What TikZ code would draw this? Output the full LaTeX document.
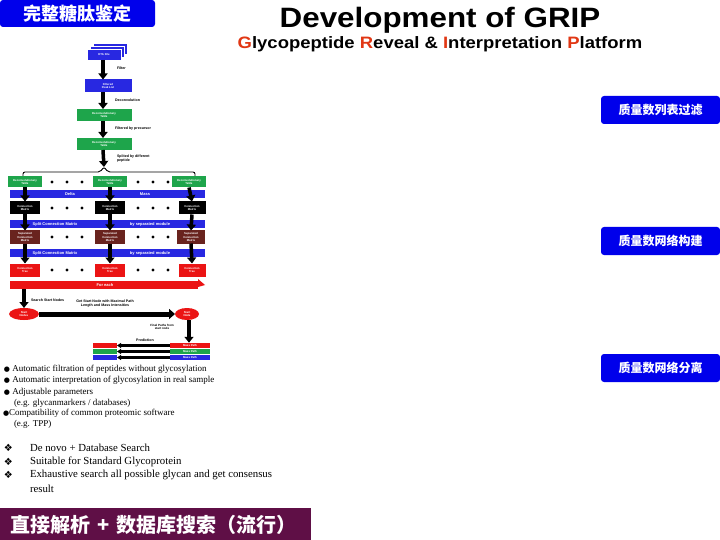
\documentclass[tikz,border=0pt]{standalone}
\usepackage{fontspec}
\setmainfont{Liberation Serif}
\newfontfamily\sansb{Liberation Sans}
\newfontfamily\cjk{Noto Sans CJK SC}
\newfontfamily\dejavu{DejaVu Sans}
\usetikzlibrary{arrows.meta,shapes.geometric}
\definecolor{tagblue}{RGB}{0,0,235}
\definecolor{fblue}{RGB}{40,40,225}
\definecolor{fgreen}{RGB}{30,165,75}
\definecolor{fbrown}{RGB}{105,35,30}
\definecolor{fred}{RGB}{235,20,20}
\definecolor{tred}{RGB}{225,55,20}
\definecolor{bpurple}{RGB}{95,15,70}
\begin{document}
\begin{tikzpicture}[x=1pt,y=-1pt,every node/.style={inner sep=0pt,outer sep=0pt},
  tag/.style={fill=tagblue,rounded corners=3pt,text=white,font=\cjk\bfseries\fontsize{12}{12}\selectfont,minimum width=119pt,minimum height=28pt},
  fb/.style={text=white,font=\sansb\bfseries\fontsize{2.8}{3.2}\selectfont,align=center,minimum height=12pt},
  lbl/.style={font=\sansb\bfseries\fontsize{3.6}{4}\selectfont,align=left},
  band/.style={fill=fblue,minimum width=195pt,minimum height=8pt},
  bandtxt/.style={text=white,font=\sansb\bfseries\fontsize{4}{4}\selectfont},
  blk/.style={line width=3.5pt,-{Triangle[width=9pt,length=6pt]}},
  thin/.style={line width=2.2pt,-{Triangle[width=5pt,length=4pt]}},
  dotc/.style={fill=black,circle,minimum size=3.2pt},
  bul/.style={anchor=west,font=\fontsize{9}{9}\selectfont},
  dia/.style={anchor=west,font=\fontsize{10.8}{12}\selectfont},
  dmark/.style={anchor=west,font=\dejavu\fontsize{10}{10}\selectfont}]
\useasboundingbox[fill=white] (0,0) rectangle (720,540);

% header
\node[fill=tagblue,rounded corners=3pt,text=white,font=\cjk\bfseries\fontsize{18}{18}\selectfont,minimum width=155pt,minimum height=27pt,anchor=north west] (head) at (0,0) {完整糖肽鉴定};
\node[font=\sansb\bfseries\fontsize{28}{28}\selectfont] (title) at (440,20) {\scalebox{1.12}[1]{Development of GRIP}};
\node[font=\sansb\bfseries\fontsize{16.5}{17}\selectfont] (sub) at (440,44) {\scalebox{1.12}[1]{\textcolor{tred}{G}lycopeptide \textcolor{tred}{R}eveal \& \textcolor{tred}{I}nterpretation \textcolor{tred}{P}latform}};

% right tags
\node[tag,anchor=north west] (t1) at (601,96) {质量数列表过滤};
\node[tag,anchor=north west] (t2) at (601,227) {质量数网络构建};
\node[tag,anchor=north west] (t3) at (601,354) {质量数网络分离};

% flow top
\fill[fblue,draw=white,line width=0.6pt] (93,43) rectangle (127,54);
\fill[fblue,draw=white,line width=0.6pt] (90,46) rectangle (124,57);
\node[fb,fill=fblue,draw=white,line width=0.6pt,minimum width=34pt,minimum height=11pt] (dta) at (104,54.5) {DTA File};
\node[fb,fill=fblue,minimum width=47pt,minimum height=13pt] (filt) at (108,86) {Filtered\\Peak List};
\node[fb,fill=fgreen,minimum width=55pt] (dec1) at (104,115) {Deconvolutionary\\Table};
\node[fb,fill=fgreen,minimum width=55pt] (dec2) at (104,144) {Deconvolutionary\\Table};
\coordinate (br) at (104,167);
\draw[blk] (dta.south -| 103,0) -- (103,79.5);
\draw[blk] (103,92.5) -- (dec1.north -| 103,0);
\draw[blk] (dec1.south -| 103,0) -- (dec2.north -| 103,0);
\draw[blk] (dec2.south -| 103,0) -- (br);
\node[lbl,anchor=west] (l1) at (117,68) {Filter};
\node[lbl,anchor=west] (l2) at (115,100) {Deconvolution};
\node[lbl,anchor=west] (l3) at (115,129) {Filtered by precursor};
\node[lbl,anchor=west] (l4) at (117,159) {Splited by different\\peptide};
\draw[line width=0.9pt,rounded corners=2pt] (23,179) -- (23,172) -- (100,172) -- (br) -- (108,172) -- (195,172) -- (195,179);

% rows
\node[fb,fill=fgreen,minimum width=34pt,minimum height=11pt] (g1) at (25,182) {Deconvolutionary\\Table};
\node[fb,fill=fgreen,minimum width=34pt,minimum height=11pt] (g2) at (110,182) {Deconvolutionary\\Table};
\node[fb,fill=fgreen,minimum width=34pt,minimum height=11pt] (g3) at (189,182) {Deconvolutionary\\Table};
\node[band] (b1) at (107,194) {};
\node[bandtxt] (b1a) at (70,194) {Delta};
\node[bandtxt] (b1b) at (145,194) {Mass};
\node[fb,fill=black,minimum width=30pt,minimum height=13pt] (m1) at (25,208) {Connection\\Matrix};
\node[fb,fill=black,minimum width=30pt,minimum height=13pt] (m2) at (110,208) {Connection\\Matrix};
\node[fb,fill=black,minimum width=27pt,minimum height=13pt] (m3) at (192,208) {Connection\\Matrix};
\node[band] (b2) at (107,224) {};
\node[bandtxt] (b2a) at (55,224) {Split Connection Matrix};
\node[bandtxt] (b2b) at (150,224) {by separated module};
\node[fb,fill=fbrown,minimum width=30pt,minimum height=13pt] (r1) at (25,237) {Separated\\Connection\\Matrix};
\node[fb,fill=fbrown,minimum width=30pt,minimum height=13pt] (r2) at (110,237) {Separated\\Connection\\Matrix};
\node[fb,fill=fbrown,minimum width=28pt,minimum height=13pt] (r3) at (191,237) {Separated\\Connection\\Matrix};
\node[band] (b3) at (107,253) {};
\node[bandtxt] (b3a) at (55,253) {Split Connection Matrix};
\node[bandtxt] (b3b) at (150,253) {by separated module};
\node[fb,fill=fred,minimum width=30pt,minimum height=13pt] (e1) at (25,270) {Connection\\Tree};
\node[fb,fill=fred,minimum width=30pt,minimum height=13pt] (e2) at (110,270) {Connection\\Tree};
\node[fb,fill=fred,minimum width=27pt,minimum height=13pt] (e3) at (192,270) {Connection\\Tree};
\node[fill=fred,minimum width=188pt,minimum height=8pt] (fe) at (104,285) {};
\fill[fred] (fe.north east) ++(0,-2) -- (205,285) -- ([yshift=2pt]fe.south east) -- cycle;
\node[bandtxt] (fet) at (105,285) {For each};

\foreach \r/\y in {g/182,m/208,r/237,e/270}{
  \foreach \x in {52,67,82,138,153,168}{\node[dotc] at (\x,\y) {};}
}
\foreach \i in {1,2,3}{
  \draw[blk] (g\i.south) -- (m\i.north);
  \draw[blk] (m\i.south) -- (r\i.north);
  \draw[blk] (r\i.south) -- (e\i.north);
}

% search
\node[ellipse,fill=fred,minimum width=30pt,minimum height=18pt,fb] (s1) at (24,314) {Start\\Nodes};
\node[ellipse,fill=fred,minimum width=24pt,minimum height=18pt,fb] (s2) at (187,314) {Start\\Node};
\draw[blk] (fe.south -| 24,0) -- (s1.north);
\node[lbl,anchor=west] (l5) at (31,300) {Search Start Nodes};
\node[lbl,align=center] (l6) at (105,304) {Get Start Node with Maximal Path\\Length and Mass Intensities};
\draw[line width=5pt,-{Triangle[width=10pt,length=6pt]}] (s1.east) -- (s2.west);
\node[lbl,align=center,font=\sansb\bfseries\fontsize{3}{3.4}\selectfont] (l7) at (162,327) {Final Paths from\\start node};

\node[fb,fill=fred,minimum width=40pt,minimum height=5.5pt] (mp1) at (190,345.5) {Mass Path};
\node[fb,fill=fgreen,minimum width=40pt,minimum height=5.5pt] (mp2) at (190,351.5) {Mass Path};
\node[fb,fill=fblue,minimum width=40pt,minimum height=5.5pt] (mp3) at (190,357.5) {Mass Path};
\node[fill=fred,minimum width=24pt,minimum height=5.5pt] (lp1) at (105,345.5) {};
\node[fill=fgreen,minimum width=24pt,minimum height=5.5pt] (lp2) at (105,351.5) {};
\node[fill=fblue,minimum width=24pt,minimum height=5.5pt] (lp3) at (105,357.5) {};
\draw[blk] (s2.south -| 189,0) -- (mp1.north -| 189,0);
\node[lbl] (l8) at (145,340) {Prediction};
\foreach \i in {1,2,3}{\draw[thin] (mp\i.west) -- (lp\i.east);}

% bullets
\node[bul] (u1) at (4,369) {{\dejavu\fontsize{7}{7}\selectfont ●}\ Automatic filtration of peptides without glycosylation};
\node[bul] (u2) at (4,380.5) {{\dejavu\fontsize{7}{7}\selectfont ●}\ Automatic interpretation of glycosylation in real sample};
\node[bul] (u3) at (4,392) {{\dejavu\fontsize{7}{7}\selectfont ●}\ Adjustable parameters};
\node[bul] (u4) at (14,403) {(e.g. glycanmarkers / databases)};
\node[bul] (u5) at (3,413) {{\dejavu\fontsize{7}{7}\selectfont ●}Compatibility of common proteomic software};
\node[bul] (u6) at (14,424) {(e.g. TPP)};

\node[dmark] (d1) at (4,448) {❖};
\node[dmark] (d2) at (4,461.5) {❖};
\node[dmark] (d3) at (4,475) {❖};
\node[dia] (v1) at (30,448) {De novo + Database Search};
\node[dia] (v2) at (30,461.5) {Suitable for Standard Glycoprotein};
\node[dia] (v3) at (30,475) {Exhaustive search all possible glycan and get consensus};
\node[dia] (v4) at (30,488.5) {result};

% bottom
\node[fill=bpurple,minimum width=311pt,minimum height=32pt,anchor=north west] (bot) at (0,508) {};
\node[text=white,font=\cjk\bfseries\fontsize{20}{20}\selectfont,anchor=west] (bott) at (10,525) {直接解析\hspace{7pt}+\hspace{7pt}数据库搜索（流行）};
\end{tikzpicture}
\end{document}
